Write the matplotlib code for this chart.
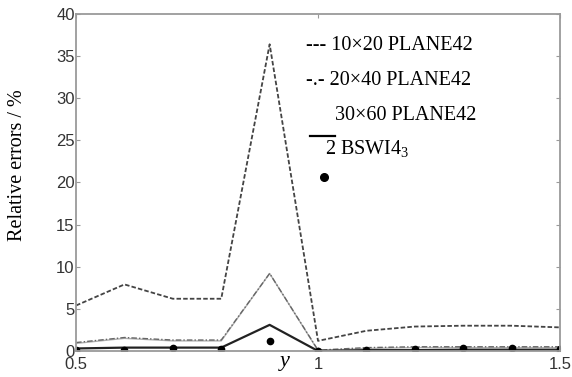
import numpy as np
import matplotlib.pyplot as plt

y_ratio = [0.5, 0.6, 0.7, 0.8, 0.9, 1.0, 1.1, 1.2, 1.3, 1.4, 1.5]

err_10x20 = [5.4, 7.9, 6.2, 6.2, 36.4, 1.2, 2.4, 2.9, 3.0, 3.0, 2.8]
err_20x40 = [1.0, 1.6, 1.3, 1.3, 9.2, 0.1, 0.4, 0.5, 0.5, 0.5, 0.5]
err_30x60 = [0.9, 1.5, 1.2, 1.2, 9.2, 0.05, 0.3, 0.4, 0.4, 0.4, 0.4]
err_bswi_line = [0.3, 0.4, 0.4, 0.4, 3.1, 0.0, 0.1, 0.1, 0.15, 0.15, 0.15]
err_bswi_pts = [0.1, 0.1, 0.3, 0.2, 1.2, 0.05, 0.1, 0.2, 0.3, 0.3, 0.2]

SERIF = ["Liberation Serif", "DejaVu Serif"]
SANS = ["Liberation Sans", "DejaVu Sans"]
FRAME = "#9a9a9a"

plt.rcParams["mathtext.fontset"] = "custom"
plt.rcParams["mathtext.rm"] = "Liberation Serif"
plt.rcParams["mathtext.it"] = "Liberation Serif:italic"


def main():
    fig = plt.figure(figsize=(5.72, 3.77), dpi=100)
    ax = fig.add_axes([0.133, 0.069, 0.846, 0.894])

    ax.plot(y_ratio, err_10x20, color="#444444", lw=1.3, ls=(0, (2.5, 1.2)))
    ax.plot(y_ratio, err_30x60, color="#b0b0b0", lw=1.0)
    ax.plot(y_ratio, err_20x40, color="#666666", lw=1.0, ls=(0, (4, 1.5, 1, 1.5)))
    ax.plot(y_ratio, err_bswi_line, color="#222222", lw=1.6)
    ax.plot(y_ratio, err_bswi_pts, "o", color="black", ms=4.5, ls="none")

    ax.set_xlim(0.5, 1.5)
    ax.set_ylim(0, 40)
    ax.set_xticks([0.5, 1, 1.5])
    ax.set_xticklabels(["0.5", "1", "1.5"])
    ax.set_yticks(range(0, 41, 5))

    for sp in ax.spines.values():
        sp.set_color(FRAME)
        sp.set_linewidth(1.3)
    ax.tick_params(direction="in", top=True, right=True, color=FRAME,
                   length=3, labelsize=12, labelcolor="#333333")
    ax.tick_params(axis="y", pad=1)
    ax.tick_params(axis="x", pad=4)
    for lab in ax.get_xticklabels() + ax.get_yticklabels():
        lab.set_family(SANS)

    fig.text(18 / 572, 1 - 165 / 377, "Relative errors / %", family=SERIF,
             fontsize=14.5, rotation=90, ha="center", va="center")
    ax.text(0.932, -0.1, "y", family=SERIF, style="italic", fontsize=16,
            ha="center", va="top")

    # legend drawn as loose text, like the original figure
    fs = 14.5
    ax.text(0.976, 36.3, "--- 10×20 PLANE42", family=SERIF, fontsize=fs, va="center")
    ax.text(0.976, 32.1, "-.- 20×40 PLANE42", family=SERIF, fontsize=fs, va="center")
    ax.text(1.036, 28.0, "30×60 PLANE42", family=SERIF, fontsize=fs, va="center")
    ax.plot([0.983, 1.035], [25.5, 25.5], color="black", lw=1.6)
    ax.text(1.014, 24.0, "2 BSWI4$_3$", family=SERIF, fontsize=fs, va="center")
    ax.plot([1.012], [20.6], "o", color="black", ms=5.5)

    fig.savefig("out.png", dpi=100)


if __name__ == "__main__":
    main()
